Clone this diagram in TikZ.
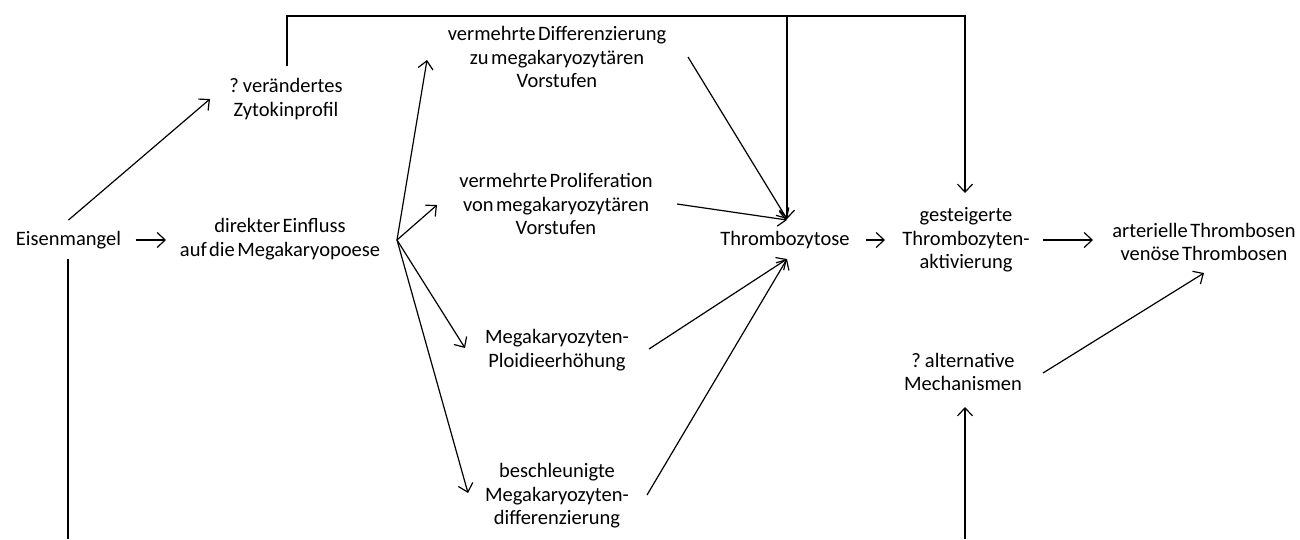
\documentclass[tikz,border=0pt]{standalone}
\usepackage{fontspec}
\setmainfont{Carlito}
\usetikzlibrary{arrows.meta,calc}

\newcommand\lblfont{\fontsize{20.5}{23.5}\selectfont\spaceskip=0.12em plus 0.05em\relax}

\tikzset{
    arr/.style={-{Straight Barb[length=8pt,width=15pt]}, line width=1.2pt},
    lbl/.style={align=center, inner sep=0pt, text=black, font=\lblfont},
}

\begin{document}
\begin{tikzpicture}[x=1pt,y=-1pt]
    \useasboundingbox (0,0) rectangle (1300,539);

    % Nodes
    \node[lbl] (eisen)  at (68.5,240) {Eisenmangel};
    \node[lbl] (zyto)   at (286,99)   {? verändertes\\Zytokinprofil};
    \node[lbl] (direkt) at (280,239)  {direkter Einfluss\\auf die Megakaryopoese};
    \node[lbl] (diff)   at (557,57)   {vermehrte Differenzierung\\zu megakaryozytären\\Vorstufen};
    \node[lbl] (prolif) at (556,204)  {vermehrte Proliferation\\von megakaryozytären\\Vorstufen};
    \node[lbl] (ploid)  at (557,350)  {Megakaryozyten-\\Ploidieerhöhung};
    \node[lbl] (beschl) at (557,496)  {beschleunigte\\Megakaryozyten-\\differenzierung};
    \node[lbl] (thr)    at (785,240)  {Thrombozytose};
    \node[lbl] (gest)   at (966,240)  {gesteigerte\\Thrombozyten-\\aktivierung};
    \node[lbl] (art)    at (1204,242) {arterielle Thrombosen\\venöse Thrombosen};
    \node[lbl] (alt)    at (963,372)  {? alternative\\Mechanismen};

    % Lines leaving the picture at the bottom
    \coordinate (eisenfoot) at (68,539);
    \coordinate (altfoot) at (965,539);

    % Eisenmangel
    \draw[arr] ($(eisen)+(67,0)$) -- ($(direkt)+(-114,1)$);
    \draw[arr] ($(eisen)+(0,-20)$) -- ($(zyto)+(-76,0)$);
    \draw[line width=1.2pt] ($(eisen)+(-0.5,19)$) -- (eisenfoot);

    % Zytokinprofil over the top
    \draw[arr] ($(zyto)+(1,-33)$) |- ($(gest)+(-1,-224)$) -- ($(gest)+(-1,-47)$);
    \draw[arr] ($(thr)+(2,-224)$) -- ($(thr)+(2,-21)$);

    % Fan of the Megakaryopoese
    \draw[arr] ($(direkt)+(117,1)$) -- ($(diff)+(-130,3)$);
    \draw[arr] ($(direkt)+(117,1)$) -- ($(prolif)+(-119,1)$);
    \draw[arr] ($(direkt)+(117,1)$) -- ($(ploid)+(-92,-2)$);
    \draw[arr] ($(direkt)+(117,1)$) -- ($(beschl)+(-89,-3)$);

    % Into Thrombozytose
    \draw[arr] ($(diff)+(131,0)$) -- ($(thr)+(2,-21)$);
    \draw[arr] ($(prolif)+(121,0)$) -- ($(thr)+(2,-20)$);
    \draw[arr] ($(ploid)+(92,-1)$) -- ($(thr)+(2,19)$);
    \draw[arr] ($(beschl)+(90,-1)$) -- ($(thr)+(2,19)$);

    % Right part
    \draw[arr] ($(thr)+(81,0)$) -- ($(gest)+(-81,0)$);
    \draw[arr] ($(gest)+(77,0)$) -- ($(art)+(-111,-2)$);
    \draw[arr] ($(alt)+(80,1)$) -- ($(art)+(0,31)$);
    \draw[arr] (altfoot) -- ($(alt)+(2,35)$);
\end{tikzpicture}
\end{document}
